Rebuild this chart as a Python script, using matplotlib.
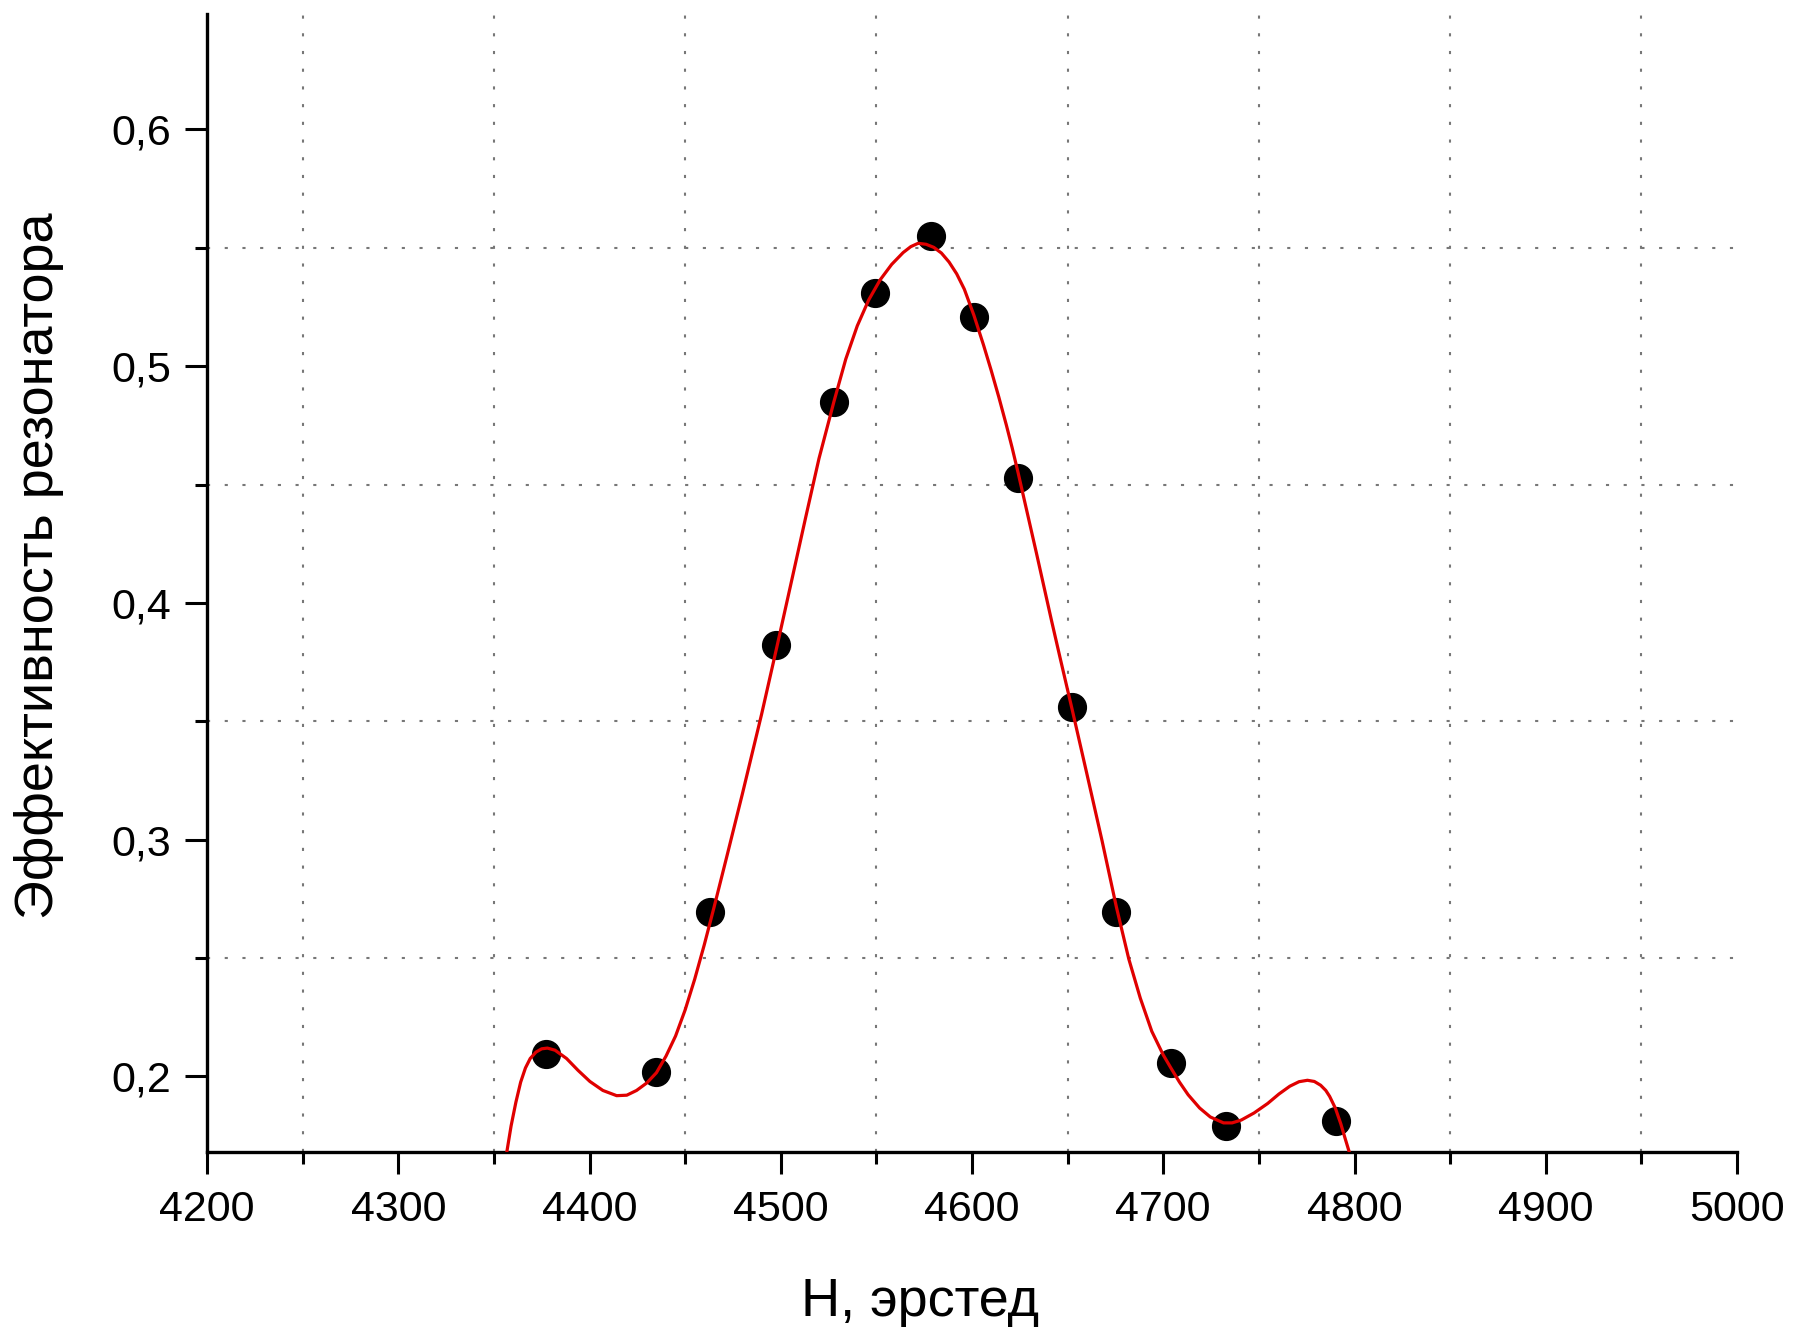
import matplotlib
matplotlib.use('Agg')
import matplotlib.pyplot as plt
from matplotlib.ticker import MultipleLocator, FuncFormatter

plt.rcParams['font.family'] = ['Liberation Sans', 'DejaVu Sans']

# measured points
h_pts = [4377.5, 4435, 4463, 4497.7, 4527.8, 4549.5, 4578.5, 4601.0,
         4624.1, 4652.5, 4675.5, 4704.0, 4732.8, 4790.2]
eff_pts = [0.2092, 0.2019, 0.2696, 0.3821, 0.4850, 0.5311, 0.5550, 0.5209,
           0.4527, 0.3562, 0.2694, 0.2055, 0.1788, 0.1812]

# fitted curve
h_fit = [4356.7, 4359.0, 4361.5, 4364.0, 4366.5, 4369.0, 4372.0, 4375.0, 4378.0,
         4382.0, 4388.0, 4394.0, 4400.2, 4407.0, 4414.2, 4419.5, 4424.6, 4430.0,
         4435.0, 4440.0, 4445.0, 4450.0, 4455.0, 4460.0, 4465.0, 4472.0, 4480.0,
         4490.0, 4498.0, 4506.0, 4513.0, 4520.0, 4527.8, 4534.0, 4540.0, 4546.0,
         4552.0, 4558.0, 4564.0, 4568.0, 4571.8, 4576.0, 4580.0, 4584.0, 4588.0,
         4592.0, 4596.0, 4601.0, 4606.0, 4610.0, 4614.0, 4618.0, 4621.0, 4624.1,
         4633.7, 4641.5, 4646.0, 4652.5, 4660.0, 4668.0, 4675.5, 4682.0, 4688.0,
         4694.0, 4700.0, 4704.0, 4708.5, 4713.0, 4719.0, 4724.6, 4731.5, 4736.0,
         4740.8, 4747.5, 4754.6, 4760.5, 4766.2, 4771.0, 4775.4, 4779.0, 4782.3,
         4785.0, 4787.0, 4790.0, 4792.8, 4795.0, 4797.4]
eff_fit = [0.1677, 0.1790, 0.1890, 0.1975, 0.2035, 0.2075, 0.2102, 0.2116, 0.2119,
           0.2110, 0.2075, 0.2025, 0.1978, 0.1940, 0.1918, 0.1920, 0.1940, 0.1972,
           0.2015, 0.2085, 0.2170, 0.2280, 0.2410, 0.2555, 0.2710, 0.2935, 0.3195,
           0.3530, 0.3815, 0.4105, 0.4360, 0.4610, 0.4850, 0.5030, 0.5170, 0.5280,
           0.5365, 0.5430, 0.5480, 0.5505, 0.5519, 0.5515, 0.5502, 0.5478, 0.5440,
           0.5390, 0.5325, 0.5215, 0.5090, 0.4983, 0.4870, 0.4750, 0.4655, 0.4550,
           0.4210, 0.3928, 0.3770, 0.3545, 0.3280, 0.2995, 0.2715, 0.2495, 0.2330,
           0.2190, 0.2090, 0.2035, 0.1975, 0.1922, 0.1866, 0.1828, 0.1803, 0.1803,
           0.1815, 0.1845, 0.1885, 0.1925, 0.1958, 0.1977, 0.1983, 0.1978, 0.1962,
           0.1940, 0.1915, 0.1865, 0.1800, 0.1740, 0.1676]

fig = plt.figure(figsize=(17.93, 13.36), dpi=100)
ax = fig.add_axes([207/1793, 1 - 1152/1336, 1530/1793, 1138.5/1336])

ax.plot(h_pts, eff_pts, 'o', color='black', markersize=20, zorder=3)
ax.plot(h_fit, eff_fit, '-', color='#e00000', linewidth=2.3, zorder=4)

ax.set_xlim(4200, 5000)
ax.set_ylim(0.168, 0.649)

for s in ['top', 'right']:
    ax.spines[s].set_visible(False)
for s in ['left', 'bottom']:
    ax.spines[s].set_linewidth(2.4)

ax.xaxis.set_major_locator(MultipleLocator(100))
ax.xaxis.set_minor_locator(MultipleLocator(50))
ax.yaxis.set_major_locator(MultipleLocator(0.1))
ax.yaxis.set_minor_locator(MultipleLocator(0.05))
ax.yaxis.set_major_formatter(FuncFormatter(lambda v, p: f'{v:.1f}'.replace('.', ',')))

ax.tick_params(which='major', direction='out', length=15.5, width=2.2, labelsize=31)
ax.tick_params(axis='x', which='major', pad=12)
ax.tick_params(axis='y', which='major', pad=10)
ax.tick_params(which='minor', direction='out', length=8.5, width=2.2)

ax.grid(which='minor', color='#777777', linewidth=1.5, linestyle=(0, (1.5, 7)))
ax.grid(which='major', visible=False)

ax.set_xlabel('H, эрстед', fontsize=39)
ax.xaxis.set_label_coords(0.466, -0.1318)
ax.xaxis.label.set_va('center')
ax.set_ylabel('Эффективность резонатора', fontsize=39)
ax.yaxis.set_label_coords(-0.110, 0.515)
ax.yaxis.label.set_va('center')

fig.savefig('out.png', dpi=100)
